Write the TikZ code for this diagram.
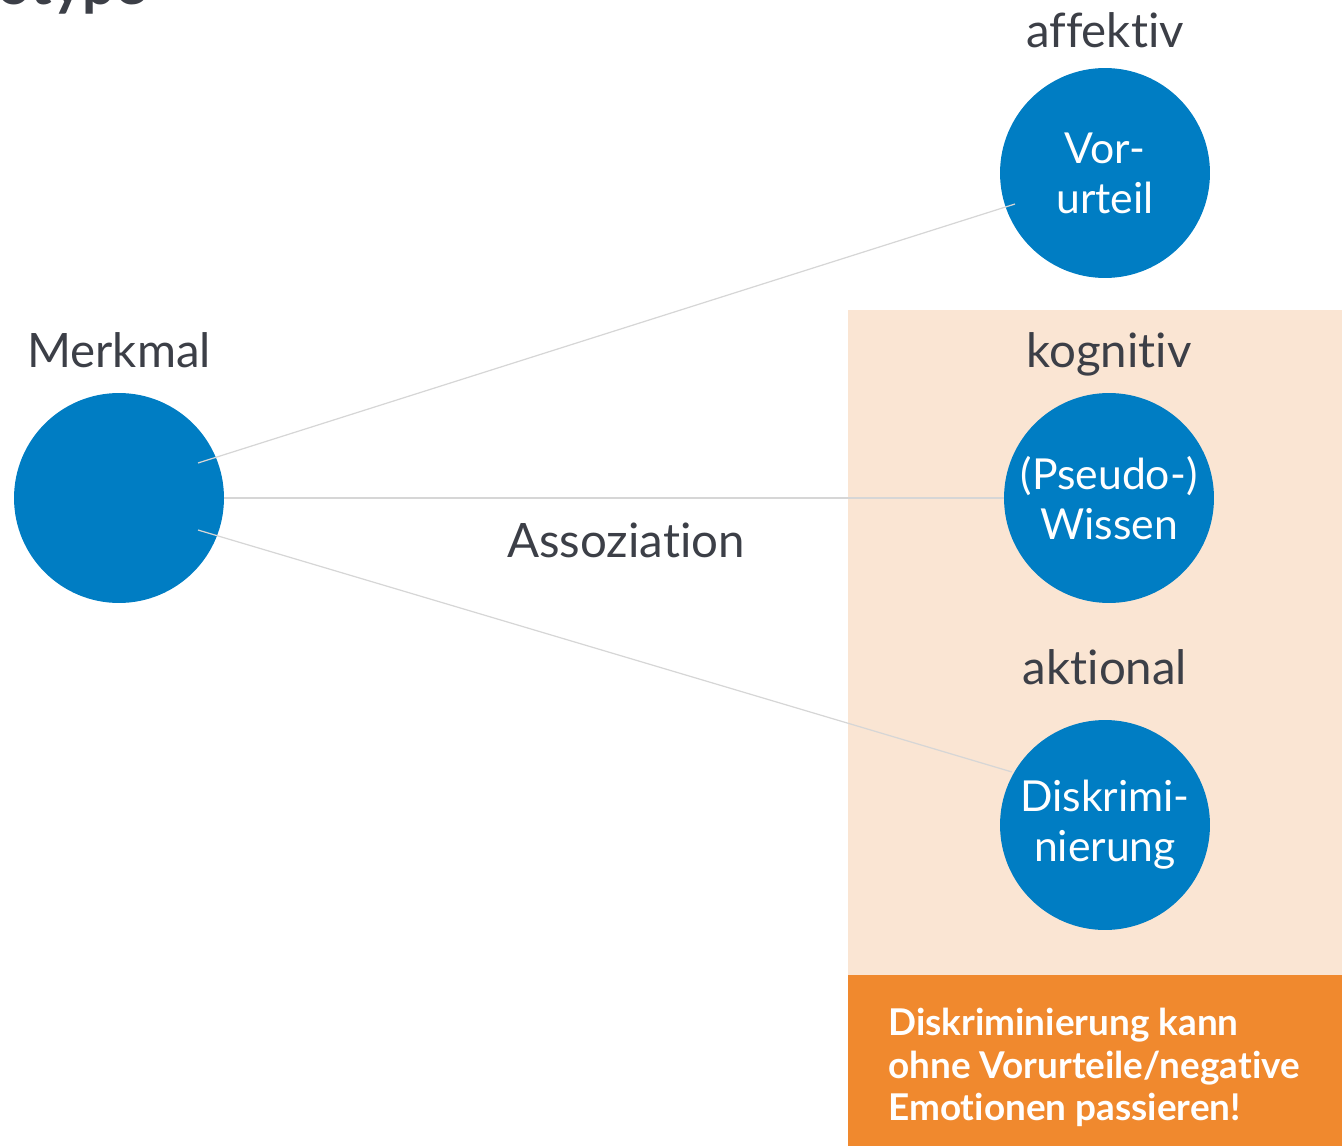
\documentclass[tikz,border=0pt]{standalone}
\usepackage{fontspec}
\setmainfont{Lato}[Ligatures=NoCommon]
\usetikzlibrary{positioning}
\definecolor{blau}{RGB}{0,125,195}
\definecolor{pfirsich}{RGB}{250,229,211}
\definecolor{hinweisorange}{RGB}{240,137,46}
\definecolor{grau}{RGB}{60,63,71}
\definecolor{linie}{RGB}{214,214,214}

\begin{document}
\begin{tikzpicture}[x=0.02cm, y=-0.02cm,
    kreis/.style = {circle, fill=blau, minimum size=4.2cm, inner sep=0pt, text=white, align=center, font=\fontsize{24.3}{28.5}\selectfont},
    titel/.style = {text=grau, inner sep=0pt, text depth=0pt, font=\fontsize{27}{32}\selectfont},
    assoz/.style = {draw=linie, line width=0.7pt}]
    % Rahmen
    \useasboundingbox (0,0) rectangle (1342,1146);
    % Ueberschrift (abgeschnitten)
    \node[text=grau, anchor=base east, inner sep=0pt, font=\bfseries\fontsize{33}{38}\selectfont] (ueberschrift) at (147,5) {Stereotype};
    % Hintergrundflaechen
    \fill[pfirsich] (848,310) rectangle (1342,975);
    \fill[hinweisorange] (848,975) rectangle (1342,1146);
    % Kreise
    \node[kreis] (merkmal) at (119,498) {};
    \node[kreis] (vorurteil) at (1105,173) {Vor-\\urteil};
    \node[kreis] (wissen) at (1109,498) {(Pseudo-)\\Wissen};
    \node[kreis] (diskriminierung) at (1105,825) {Diskrimi-\\nierung};
    % Beschriftungen
    \node[titel, above=0.5cm of merkmal] (merkmaltitel) {Merkmal};
    \node[titel, above=0.4cm of vorurteil] (affektiv) {affektiv};
    \node[titel, above=0.5cm of wissen] (kognitiv) {kognitiv};
    \node[titel, above=0.7cm of diskriminierung] (aktional) {aktional};
    \node[titel, anchor=base] (assoziation) at (626,557) {Assoziation};
    % Verbindungen
    \coordinate (m-oben) at (198,463);
    \coordinate (v-ende) at (1015,204);
    \coordinate (m-unten) at (198,530);
    \coordinate (d-ende) at (1012,772);
    \draw[assoz] (m-oben) -- (v-ende);
    \draw[assoz] (merkmal.east) -- (wissen.west);
    \draw[assoz] (m-unten) -- (d-ende);
    % Hinweis
    \node[anchor=north west, inner sep=0pt, align=left, text=white, font=\bfseries\fontsize{21}{24.2}\selectfont] (hinweis) at (888,1008)
        {Diskriminierung kann\\ohne Vorurteile/negative\\Emotionen passieren!};
\end{tikzpicture}
\end{document}
